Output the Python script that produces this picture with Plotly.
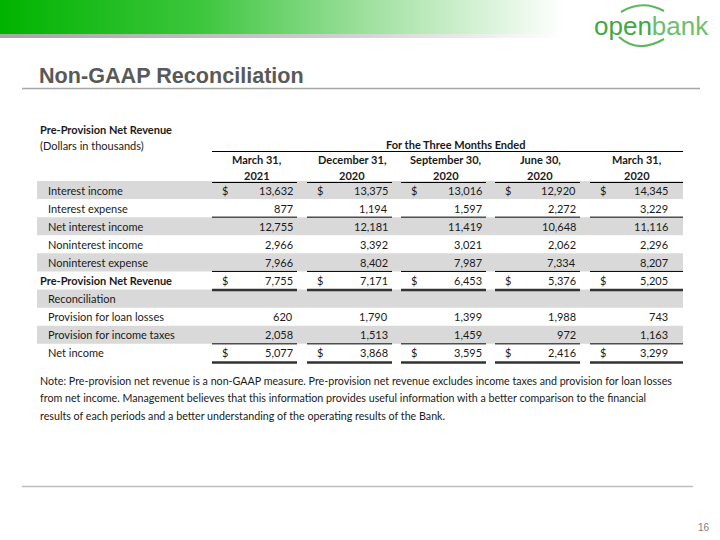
import plotly.graph_objects as go

# ---- data -------------------------------------------------------------
periods = ["March 31,", "December 31,", "September 30,", "June 30,", "March 31,"]
years = ["2021", "2020", "2020", "2020", "2020"]

row_labels = [
    "Interest income", "Interest expense", "Net interest income",
    "Noninterest income", "Noninterest expense", "Pre-Provision Net Revenue",
    "Reconciliation", "Provision for loan losses", "Provision for income taxes",
    "Net income",
]
interest_income = [13632, 13375, 13016, 12920, 14345]
interest_expense = [877, 1194, 1597, 2272, 3229]
net_interest_income = [12755, 12181, 11419, 10648, 11116]
noninterest_income = [2966, 3392, 3021, 2062, 2296]
noninterest_expense = [7966, 8402, 7987, 7334, 8207]
ppnr = [7755, 7171, 6453, 5376, 5205]
provision_loan_losses = [620, 1790, 1399, 1988, 743]
provision_income_taxes = [2058, 1513, 1459, 972, 1163]
net_income = [5077, 3868, 3595, 2416, 3299]

row_values = [
    interest_income, interest_expense, net_interest_income, noninterest_income,
    noninterest_expense, ppnr, None, provision_loan_losses,
    provision_income_taxes, net_income,
]
shaded_rows = {0, 2, 4, 6, 8}
bold_rows = {5}
dollar_rows = {0, 5, 9}
thin_rule_rows = {1, 4, 8}
thick_rule_rows = {5, 9}

note_lines = [
    "Note: Pre-provision net revenue is a non-GAAP measure. Pre-provision net revenue excludes income taxes and provision for loan losses",
    "from net income. Management believes that this information provides useful information with a better comparison to the financial",
    "results of each periods and a better understanding of the operating results of the Bank.",
]

# ---- layout constants (pixels) ----------------------------------------
FONT = "Lato, 'Liberation Sans', Arial, sans-serif"
TXT = "#1a1a1a"
TSIZE = 11
col_left = [212, 307, 401, 495, 590]
col_right = [302, 397, 491, 585, 683]
ROW0, ROW_H = 190, 18.1

fig = go.Figure()
shapes, ann = [], []


def text(x, y, s, size=TSIZE, bold=False, anchor="left", color=TXT, family=FONT):
    ann.append(dict(x=x, y=y, text=f"<b>{s}</b>" if bold else s, showarrow=False,
                    xanchor=anchor, yanchor="middle", align=anchor,
                    font=dict(size=size, color=color, family=family)))


def hline(x0, x1, y, w=1, color="#000000"):
    shapes.append(dict(type="line", x0=x0, x1=x1, y0=y, y1=y,
                       line=dict(color=color, width=w)))


# banner gradient + grey strip
fig.add_trace(go.Scatter(x=[0, 565, 565, 0, 0], y=[0, 0, 34, 34, 0], mode="lines",
                         fill="toself", line=dict(width=0), hoverinfo="skip",
                         fillgradient=dict(type="horizontal", colorscale=[
                             [0, "#00b300"], [0.35, "#3cc63c"], [0.65, "#9fe09f"], [1, "#ffffff"]])))
fig.add_trace(go.Scatter(x=[0, 565, 565, 0, 0], y=[34, 34, 38, 38, 34], mode="lines",
                         fill="toself", line=dict(width=0), hoverinfo="skip",
                         fillgradient=dict(type="horizontal", colorscale=[
                             [0, "#a6a6a6"], [0.6, "#cfcfcf"], [1, "#ffffff"]])))

# logo
ann.append(dict(x=592, y=26, text="<span style='color:#3fa83f'>open</span><span style='color:#6cbf6c'>bank</span>",
                showarrow=False, xanchor="left", yanchor="middle",
                font=dict(size=26, family="'Liberation Sans', Arial")))
shapes.append(dict(type="path", path="M 621 12 Q 642 -1 664 11", line=dict(color="#5cb85c", width=2.2)))
shapes.append(dict(type="path", path="M 619 37 Q 638 54 664 39", line=dict(color="#5cb85c", width=2.2)))

# title
text(37, 75, "Non-GAAP Reconciliation", size=21.6, bold=True, color="#595959",
     family="'Liberation Sans', Arial")
hline(22, 700, 88.5, w=1.6, color="#a6a6a6")

# table headings
text(38, 129, "Pre-Provision Net Revenue", bold=True)
text(38, 145, "(Dollars in thousands)")
text((col_left[0] + col_right[-1]) / 2 + 8, 144, "For the Three Months Ended", bold=True, anchor="center")
hline(col_left[0], col_right[-1], 151.5)
for i in range(5):
    cx = (col_left[i] + col_right[i]) / 2
    text(cx, 159.5, periods[i], bold=True, anchor="center")
    text(cx, 175.5, years[i], bold=True, anchor="center")
    hline(col_left[i], col_right[i] - 5 if i < 4 else col_right[i], 182.5)

# body rows
for r, label in enumerate(row_labels):
    yc = ROW0 + r * ROW_H
    if r in shaded_rows:
        shapes.append(dict(type="rect", x0=37, x1=col_right[-1], y0=yc - ROW_H / 2, y1=yc + ROW_H / 2,
                           fillcolor="#d9d9d9", line=dict(width=0), layer="below"))
    bold = r in bold_rows
    text(38 if bold else 46, yc, label, bold=bold)
    vals = row_values[r]
    if vals is None:
        continue
    for i, v in enumerate(vals):
        rx = col_right[i] - 7 if i < 4 else col_right[i] - 13
        text(rx, yc, f"{v:,}", anchor="right")
        if r in dollar_rows:
            text(col_left[i] + 8, yc, "$")
        x1 = col_right[i] - 5 if i < 4 else col_right[i]
        if r in thin_rule_rows:
            hline(col_left[i], x1, yc + ROW_H / 2)
        if r in thick_rule_rows:
            hline(col_left[i], x1, yc + ROW_H / 2 + 0.5, w=2.6, color="#333333")

# note
for k, line in enumerate(note_lines):
    text(38, 380 + k * 17.5, line, size=10.7)

# footer
hline(22, 693, 486.5, w=1.6, color="#bfbfbf")
text(712, 527, "16", size=10, anchor="right", color="#7f7f7f", family="'Liberation Sans', Arial")

fig.update_layout(
    width=720, height=540, margin=dict(l=0, r=0, t=0, b=0),
    paper_bgcolor="white", plot_bgcolor="white", showlegend=False,
    xaxis=dict(range=[0, 720], visible=False, fixedrange=True),
    yaxis=dict(range=[540, 0], visible=False, fixedrange=True),
    shapes=shapes, annotations=ann,
)
fig.write_html("out.html", config={"displayModeBar": False},
               post_script="document.body.style.margin='0';")
